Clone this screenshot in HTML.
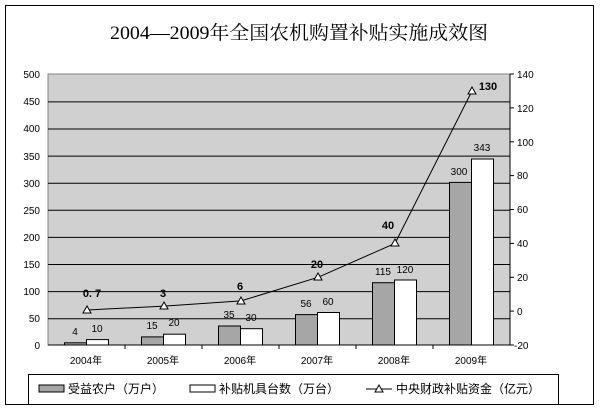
<!DOCTYPE html>
<html><head><meta charset="utf-8"><style>body{margin:0;background:#fff}svg{display:block}</style></head><body>
<svg width="600" height="411" xmlns="http://www.w3.org/2000/svg" font-family="Liberation Sans, 'Noto Sans CJK SC', sans-serif">
<rect x="5.5" y="5.5" width="588" height="399" fill="#fff" stroke="#000"/>
<text x="110" y="39" font-size="19" textLength="378" lengthAdjust="spacingAndGlyphs" font-family="'Liberation Serif','Noto Serif CJK SC',serif">2004—2009年全国农机购置补贴实施成效图</text>
<rect x="48" y="74" width="462" height="271" fill="#d0d0d0" stroke="#808080"/>
<g stroke="#000" stroke-width="1">
<line x1="48" y1="101.9" x2="510" y2="101.9"/><line x1="48" y1="129" x2="510" y2="129"/>
<line x1="48" y1="156.1" x2="510" y2="156.1"/><line x1="48" y1="183.2" x2="510" y2="183.2"/>
<line x1="48" y1="210.3" x2="510" y2="210.3"/><line x1="48" y1="237.4" x2="510" y2="237.4"/>
<line x1="48" y1="264.5" x2="510" y2="264.5"/><line x1="48" y1="291.6" x2="510" y2="291.6"/>
<line x1="48" y1="318.7" x2="510" y2="318.7"/>
<line x1="48" y1="345" x2="510" y2="345"/>
<line x1="510" y1="74" x2="510" y2="345"/>
</g>
<g stroke="#000" stroke-width="1">
<line x1="125" y1="345" x2="125" y2="349"/><line x1="202" y1="345" x2="202" y2="349"/><line x1="279" y1="345" x2="279" y2="349"/><line x1="356" y1="345" x2="356" y2="349"/><line x1="433" y1="345" x2="433" y2="349"/>
<line x1="510" y1="74" x2="514" y2="74"/><line x1="510" y1="107.9" x2="514" y2="107.9"/><line x1="510" y1="141.8" x2="514" y2="141.8"/><line x1="510" y1="175.6" x2="514" y2="175.6"/><line x1="510" y1="209.5" x2="514" y2="209.5"/><line x1="510" y1="243.4" x2="514" y2="243.4"/><line x1="510" y1="277.3" x2="514" y2="277.3"/><line x1="510" y1="311.1" x2="514" y2="311.1"/><line x1="510" y1="345" x2="514" y2="345"/>
</g>
<g font-size="10" text-anchor="end">
<text x="40" y="78">500</text><text x="40" y="105">450</text><text x="40" y="132">400</text><text x="40" y="160">350</text><text x="40" y="187">300</text><text x="40" y="214">250</text><text x="40" y="241">200</text><text x="40" y="268">150</text><text x="40" y="295">100</text><text x="40" y="322">50</text><text x="40" y="349">0</text>
</g>
<g font-size="10">
<text x="517" y="78">140</text><text x="517" y="112">120</text><text x="517" y="146">100</text><text x="517" y="179">80</text><text x="517" y="213">60</text><text x="517" y="247">40</text><text x="517" y="281">20</text><text x="517" y="315">0</text><text x="514" y="349">-20</text>
</g>
<g stroke="#000" stroke-width="1">
<rect x="64.5" y="342.8" width="22" height="2.2" fill="#a6a6a6"/><rect x="86.5" y="339.6" width="22" height="5.4" fill="#fff"/>
<rect x="141.5" y="336.9" width="22" height="8.1" fill="#a6a6a6"/><rect x="163.5" y="334.2" width="22" height="10.8" fill="#fff"/>
<rect x="218.5" y="326" width="22" height="19" fill="#a6a6a6"/><rect x="240.5" y="328.7" width="22" height="16.3" fill="#fff"/>
<rect x="295.5" y="314.6" width="22" height="30.4" fill="#a6a6a6"/><rect x="317.5" y="312.5" width="22" height="32.5" fill="#fff"/>
<rect x="372.5" y="282.7" width="22" height="62.3" fill="#a6a6a6"/><rect x="394.5" y="280" width="22" height="65" fill="#fff"/>
<rect x="449.5" y="182.4" width="22" height="162.6" fill="#a6a6a6"/><rect x="471.5" y="159" width="22" height="186" fill="#fff"/>
</g>
<g font-size="10" text-anchor="middle">
<text x="75" y="335">4</text><text x="97" y="332">10</text>
<text x="152" y="329">15</text><text x="174" y="326">20</text>
<text x="229" y="318">35</text><text x="251" y="321">30</text>
<text x="306" y="307">56</text><text x="328" y="305">60</text>
<text x="383" y="275">115</text><text x="405" y="273">120</text>
<text x="459" y="175">300</text><text x="482" y="151">343</text>
</g>
<polyline fill="none" stroke="#000" stroke-width="1" points="87,310 164,306.1 241,300.9 318,277.3 395,243.4 472,91"/>
<g fill="#fff" stroke="#000">
<polygon points="87,306 83,313 91,313"/><polygon points="164,302 160,309 168,309"/><polygon points="241,297 237,304 245,304"/><polygon points="318,273 314,280 322,280"/><polygon points="395,239 391,246 399,246"/><polygon points="472,87 468,94 476,94"/>
</g>
<g font-size="11" font-weight="bold" text-anchor="middle">
<text x="92" y="297">0. 7</text><text x="163" y="297">3</text><text x="240" y="290">6</text><text x="317" y="268">20</text><text x="388" y="229">40</text><text x="488" y="90">130</text>
</g>
<g font-size="10" text-anchor="middle">
<text x="86" y="364">2004年</text><text x="163" y="364">2005年</text><text x="240" y="364">2006年</text><text x="317" y="364">2007年</text><text x="394" y="364">2008年</text><text x="471" y="364">2009年</text>
</g>
<rect x="28.5" y="374.5" width="530" height="30" fill="#fff" stroke="#000"/>
<rect x="39" y="385" width="25" height="7" fill="#a6a6a6" stroke="#000"/>
<text x="68" y="393" font-size="12">受益农户（万户）</text>
<rect x="190" y="385" width="25" height="7" fill="#fff" stroke="#000"/>
<text x="219" y="393" font-size="12">补贴机具台数（万台）</text>
<line x1="366" y1="389" x2="392" y2="389" stroke="#000"/>
<polygon points="379,385 375,392 383,392" fill="#fff" stroke="#000"/>
<text x="396" y="393" font-size="12">中央财政补贴资金（亿元）</text>
</svg>
</body></html>
